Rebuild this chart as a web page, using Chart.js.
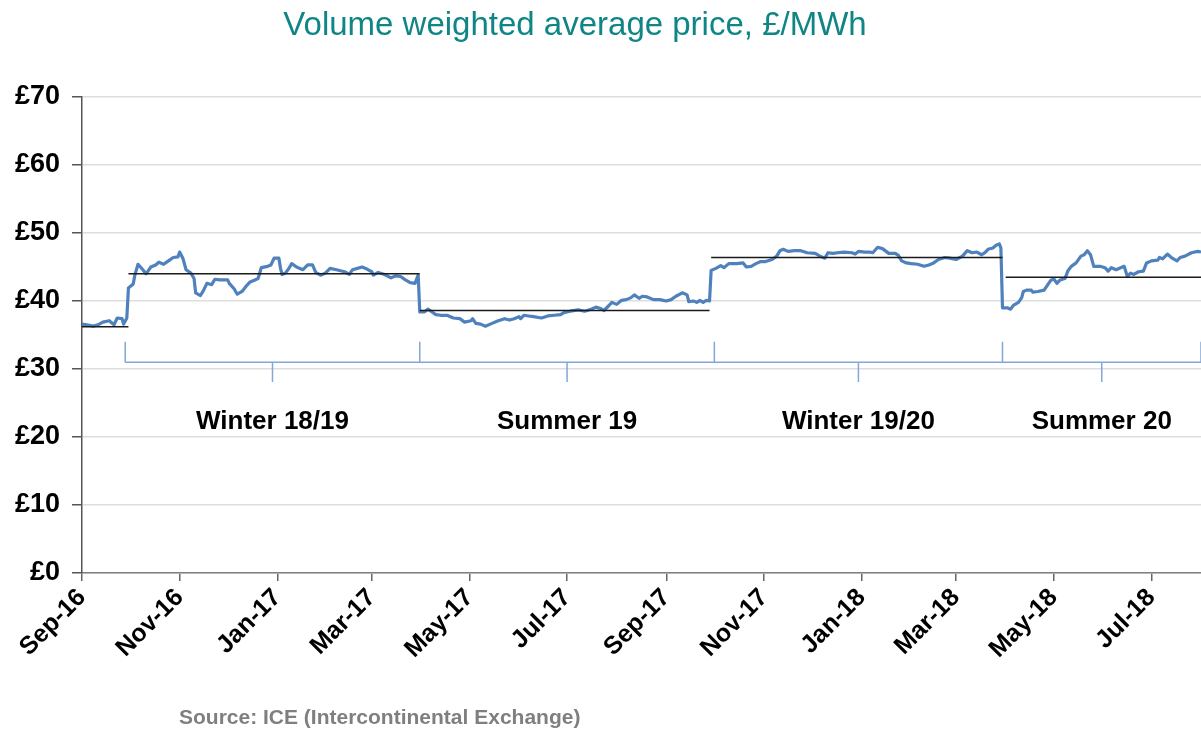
<!DOCTYPE html>
<html>
<head>
<meta charset="utf-8">
<script src="https://cdn.jsdelivr.net/npm/chart.js@4/dist/chart.umd.min.js"></script>
<style>
  body { margin: 0; background: #fff; }
  #wrap { position: relative; width: 1201px; height: 729px; }
  #title { position: absolute; left: 0; top: 5px; width: 1150px; text-align: center;
           font: 33px "Liberation Sans", Arial, sans-serif; color: #0f8585; }
  #source { position: absolute; left: 179px; top: 705px;
            font: bold 21px "Liberation Sans", Arial, sans-serif; color: #7f7f7f; }
</style>
</head>
<body>
<div id="wrap">
  <canvas id="vwap"></canvas>
  <div id="title">Volume weighted average price, £/MWh</div>
  <div id="source">Source: ICE (Intercontinental Exchange)</div>
</div>
<script>
// days counted from 1 Sep 2016
var dayOffset = [0,3,7,10,13,17,20,22,25,26,28,29,32,33,35,38,40,43,46,48,51,54,57,60,61,63,65,68,70,71,74,76,78,81,83,86,91,92,95,97,100,103,105,108,110,112,116,118,120,123,124,125,127,129,131,134,138,141,144,146,149,152,155,
  159,164,167,169,172,175,178,181,182,185,189,193,196,199,202,205,208,210,211,214,216,218,221,224,228,232,236,239,243,244,246,249,252,255,260,264,267,270,273,274,276,279,282,287,291,295,299,301,305,310,314,318,
  321,324,326,329,331,334,337,340,343,345,348,350,353,357,361,363,365,368,371,375,378,379,382,384,386,388,390,392,393,396,399,401,404,409,413,415,418,421,424,427,431,434,436,438,441,445,449,453,458,461,464,466,469,
  472,476,481,483,485,489,492,494,497,500,504,508,510,512,515,518,522,526,529,532,535,539,542,546,550,553,556,559,562,564,566,569,571,573,574,575,578,580,582,585,587,588,590,593,594,597,601,603,605,607,609,611,614,616,618,621,624,626,628,630,632,636,639,641,643,646,651,653,655,657,660,663,665,668,672,673,675,678,681,684,686,689,693,697,699];
var price = [36.6,36.5,36.3,36.5,36.9,37.1,36.5,37.5,37.4,36.6,37.5,41.9,42.5,43.8,45.4,44.6,44.0,45.0,45.3,45.7,45.4,45.9,46.4,46.5,47.2,46.3,44.6,44.1,43.3,41.2,40.8,41.6,42.6,42.4,43.2,43.1,43.1,42.6,41.8,41.0,41.4,42.3,42.8,43.1,43.3,44.9,45.1,45.3,46.3,46.3,44.8,43.9,44.1,44.7,45.5,45.0,44.6,45.3,45.3,44.2,43.8,44.1,44.8,
  44.6,44.3,43.9,44.6,44.8,45.0,44.7,44.3,43.8,44.2,43.9,43.4,43.7,43.6,43.1,42.7,42.6,43.8,38.4,38.4,38.8,38.5,38.0,37.9,37.9,37.5,37.4,36.9,37.1,37.4,36.7,36.6,36.3,36.6,37.1,37.4,37.2,37.4,37.7,37.4,37.9,37.8,37.7,37.5,37.8,37.9,38.0,38.3,38.5,38.7,38.5,38.8,
  39.1,38.9,38.6,39.3,39.8,39.5,40.1,40.2,40.5,40.9,40.4,40.7,40.6,40.2,40.2,40.1,40.0,40.2,40.7,41.2,40.9,39.9,40.0,39.8,40.1,39.8,40.1,40.0,44.5,44.8,45.2,44.9,45.5,45.5,45.6,45.0,45.1,45.5,45.8,45.8,46.1,46.6,47.4,47.6,47.3,47.4,47.4,47.1,47.0,46.6,46.3,47.1,47.0,
  47.1,47.2,47.1,46.9,47.3,47.2,47.2,47.1,47.9,47.7,47.0,47.0,46.7,45.9,45.6,45.5,45.4,45.1,45.3,45.6,46.1,46.4,46.3,46.1,46.6,47.4,47.1,47.2,46.8,47.1,47.6,47.8,48.2,48.4,47.8,39.0,39.0,38.8,39.4,39.8,40.5,41.4,41.6,41.6,41.3,41.4,41.6,42.3,43.0,43.3,42.6,43.1,43.3,44.5,45.1,45.6,46.6,46.8,47.4,46.8,45.1,45.1,44.9,44.4,44.9,44.6,45.1,43.6,44.1,43.9,44.3,44.4,45.6,45.9,46.0,46.4,46.2,46.9,46.3,45.9,46.4,46.6,47.1,47.3,47.2];

// season averages (black lines)
var avgStart = [0, 29, 211, 393, 577];
var avgEnd = [29, 211, 392, 575, 699];
var avgPrice = [36.2, 44.0, 38.6, 46.4, 43.5];

// season brackets and labels
var seasonEdges = [27, 211, 395, 575, 699];
var seasonMid = [119, 303, 485, 637];
var seasonLabels = ["Winter 18/19", "Summer 19", "Winter 19/20", "Summer 20"];

// x tick labels, every two months
var monthDays = [0, 61, 122, 181, 242, 303, 365, 426, 487, 546, 607, 668];
var monthLabels = ["Sep-16", "Nov-16", "Jan-17", "Mar-17", "May-17", "Jul-17", "Sep-17", "Nov-17", "Jan-18", "Mar-18", "May-18", "Jul-18"];

var FONT = "'Liberation Sans', Arial, sans-serif";
var bracketY = 31, bracketUp = 34, bracketDown = 28.1, labelY = 22.2;

var avgData = [];
for (var i = 0; i < avgPrice.length; i++) {
	avgData.push({x: avgStart[i], y: avgPrice[i]}, {x: avgEnd[i], y: avgPrice[i]}, {x: avgEnd[i], y: null});
}

var bracketData = [{x: seasonEdges[0], y: bracketY}, {x: seasonEdges[seasonEdges.length - 1], y: bracketY}, {x: seasonEdges[0], y: null}];
seasonEdges.forEach(function(e) {
	bracketData.push({x: e, y: bracketY}, {x: e, y: bracketUp}, {x: e, y: null});
});
seasonMid.forEach(function(m) {
	bracketData.push({x: m, y: bracketY}, {x: m, y: bracketDown}, {x: m, y: null});
});

var seasonText = {
	id: 'seasonText',
	afterDatasetsDraw: function(chart) {
		var ctx = chart.ctx, xs = chart.scales.x, ys = chart.scales.y;
		ctx.save();
		ctx.font = "bold 26px " + FONT;
		ctx.fillStyle = "#000";
		ctx.textAlign = "center";
		ctx.textBaseline = "middle";
		seasonLabels.forEach(function(t, i) {
			ctx.fillText(t, xs.getPixelForValue(seasonMid[i]), ys.getPixelForValue(labelY));
		});
		ctx.restore();
	}
};

var ctx = document.getElementById("vwap").getContext("2d");
new Chart(ctx, {
	type: 'line',
	data: {
		datasets: [
		{
			label: "Season average",
			data: avgData,
			borderColor: "#1a1a1a",
			borderWidth: 1.5,
			pointRadius: 0,
			spanGaps: false
		},
		{
			label: "VWAP",
			data: dayOffset.map(function(d, i) { return {x: d, y: price[i]}; }),
			borderColor: "#4f81bd",
			borderWidth: 3.2,
			pointRadius: 0,
			tension: 0,
			borderJoinStyle: 'round'
		},
		{
			label: "Seasons",
			data: bracketData,
			borderColor: "#82a8d8",
			borderWidth: 1.5,
			pointRadius: 0,
			spanGaps: false
		}
		]
	},
	options: {
		responsive: true,
		maintainAspectRatio: false,
		animation: false,
		layout: { padding: { top: 97, left: 0, right: 0, bottom: 0 } },
		plugins: {
			legend: { display: false },
			tooltip: { enabled: false },
			title: { display: false }
		},
		scales: {
			x: {
				type: 'linear',
				min: 0,
				max: 699,
				afterBuildTicks: function(scale) {
					scale.ticks = monthDays.map(function(v) { return {value: v}; });
				},
				afterFit: function(scale) { scale.height = 156; },
				ticks: {
					autoSkip: false,
					minRotation: 45,
					maxRotation: 45,
					padding: 2,
					color: "#000",
					font: { family: FONT, size: 25, weight: 'bold' },
					callback: function(v, i) { return monthLabels[i]; }
				},
				grid: { drawOnChartArea: false, drawTicks: true, tickLength: 8, tickColor: "#666", lineWidth: 1.5 },
				border: { color: "#808080", width: 1.5 }
			},
			y: {
				min: 0,
				max: 70,
				afterFit: function(scale) { scale.width = 82; },
				ticks: {
					stepSize: 10,
					padding: 12,
					color: "#000",
					font: { family: FONT, size: 27, weight: 'bold' },
					callback: function(v) { return "£" + v; }
				},
				grid: { color: "#dedede", lineWidth: 1.5, tickLength: 10, tickColor: "#555" },
				border: { color: "#555", width: 1.5 }
			}
		}
	},
	plugins: [seasonText]
});
</script>
</body>
</html>
